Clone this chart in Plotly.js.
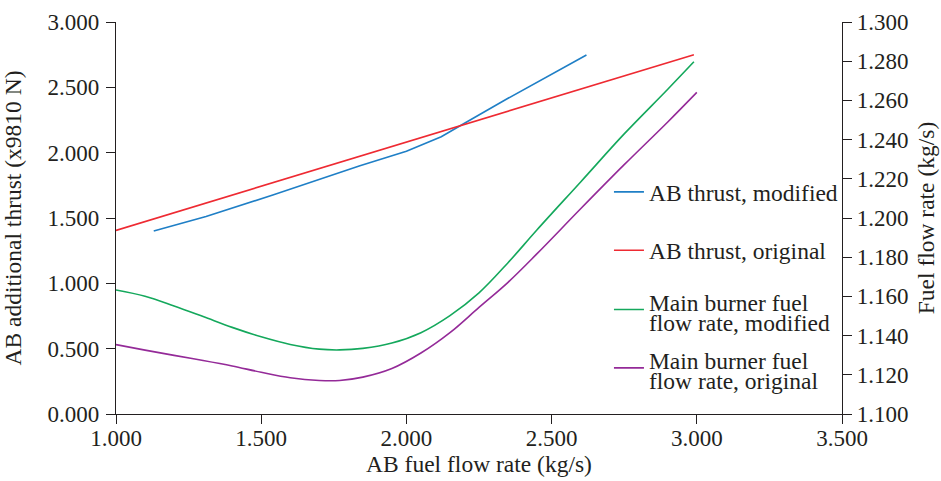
<!DOCTYPE html>
<html>
<head>
<meta charset="utf-8">
<script src="https://cdn.plot.ly/plotly-3.0.1.min.js"></script>
<style>
  html, body { margin: 0; padding: 0; background: #fff; }
  #chart { width: 941px; height: 481px; }
</style>
</head>
<body>
<div id="chart"></div>
<script>
// AB (afterburner) thrust, left axis, in units of 9810 N
const thrustModX = [1.13, 1.31, 1.54, 1.84, 2.00, 2.12, 2.20, 2.35, 2.62];
const thrustModY = [1.400, 1.512, 1.676, 1.900, 2.010, 2.122, 2.225, 2.416, 2.747];
const thrustOrigX = [1.00, 2.99];
const thrustOrigY = [1.405, 2.750];

// Main burner fuel flow rate, right axis, kg/s
const fuelModX = [1.00, 1.10, 1.20, 1.30, 1.40, 1.50, 1.60, 1.70, 1.77, 1.85, 1.95, 2.05, 2.15, 2.25, 2.35, 2.45, 2.60, 2.75, 2.90, 2.99];
const fuelModY = [1.1633, 1.1601, 1.1551, 1.1497, 1.1442, 1.1394, 1.1355, 1.1331, 1.1327, 1.1335, 1.1362, 1.1415, 1.1502, 1.1618, 1.1772, 1.1940, 1.2184, 1.2429, 1.2657, 1.2797];
const fuelOrigX = [1.00, 1.10, 1.20, 1.30, 1.40, 1.50, 1.60, 1.70, 1.77, 1.85, 1.95, 2.05, 2.15, 2.25, 2.35, 2.45, 2.60, 2.75, 2.90, 3.00];
const fuelOrigY = [1.1354, 1.1326, 1.1299, 1.1273, 1.1245, 1.1213, 1.1185, 1.1171, 1.1171, 1.1188, 1.1232, 1.1311, 1.1415, 1.1544, 1.1672, 1.1818, 1.2047, 1.2272, 1.2490, 1.2641];

// Axis ticks
const xTicks = [1.0, 1.5, 2.0, 2.5, 3.0, 3.5];
const yLeftTicks = [0, 0.5, 1.0, 1.5, 2.0, 2.5, 3.0];
const yRightTicks = [1.10, 1.12, 1.14, 1.16, 1.18, 1.20, 1.22, 1.24, 1.26, 1.28, 1.30];

const seriesNames = [
  'AB thrust, modified',
  'AB thrust, original',
  'Main burner fuel<br>flow rate, modified',
  'Main burner fuel<br>flow rate, original'
];
const seriesColors = ['#1f7fc6', '#ee2a32', '#14a85c', '#942a98'];

const ink = '#231f20';
const fontFamily = '"Liberation Serif", "DejaVu Serif", serif';
const tickSize = 23;
const textSize = 23.5;

const traces = [
  { x: thrustModX, y: thrustModY, yaxis: 'y', legend: 'legend' },
  { x: thrustOrigX, y: thrustOrigY, yaxis: 'y', legend: 'legend2' },
  { x: fuelModX, y: fuelModY, yaxis: 'y2', legend: 'legend3', spline: true },
  { x: fuelOrigX, y: fuelOrigY, yaxis: 'y2', legend: 'legend4', spline: true }
].map((t, i) => ({
  type: 'scatter',
  mode: 'lines',
  x: t.x,
  y: t.y,
  yaxis: t.yaxis,
  legend: t.legend,
  name: seriesNames[i],
  line: { color: seriesColors[i], width: 1.6, shape: t.spline ? 'spline' : 'linear', smoothing: 1 },
  hoverinfo: 'x+y+name'
}));

const axisCommon = {
  showline: true,
  linecolor: ink,
  linewidth: 1.2,
  ticks: 'outside',
  ticklen: 9,
  tickwidth: 1.2,
  tickcolor: ink,
  showgrid: false,
  zeroline: false,
  tickformat: '.3f',
  tickfont: { family: fontFamily, size: tickSize, color: ink }
};

// One small legend per series so each entry can sit at its own height
function legendAt(yFrac) {
  return {
    x: 0.679, y: yFrac, xref: 'paper', yref: 'paper',
    xanchor: 'left', yanchor: 'middle',
    bgcolor: 'rgba(0,0,0,0)', borderwidth: 0,
    font: { family: fontFamily, size: textSize, color: ink },
    valign: 'middle'
  };
}

const titleFont = { family: fontFamily, size: textSize, color: ink };

const layout = {
  width: 941,
  height: 481,
  margin: { l: 116, r: 99, t: 22, b: 67 },
  paper_bgcolor: '#ffffff',
  plot_bgcolor: '#ffffff',
  font: { family: fontFamily, size: textSize, color: ink },
  showlegend: true,
  legend: legendAt(0.566),
  legend2: legendAt(0.417),
  legend3: legendAt(0.2653),
  legend4: legendAt(0.1166),
  xaxis: Object.assign({}, axisCommon, {
    range: [1.0, 3.5],
    tickvals: xTicks,
    ticklabelstandoff: -6,
    title: { text: 'AB fuel flow rate (kg/s)', font: titleFont, standoff: 4 }
  }),
  yaxis: Object.assign({}, axisCommon, {
    range: [0, 3.0],
    tickvals: yLeftTicks,
    ticklabelstandoff: 2,
    title: { text: 'AB additional thrust (x9810 N)', font: titleFont, standoff: 24 }
  }),
  yaxis2: Object.assign({}, axisCommon, {
    range: [1.10, 1.30],
    tickvals: yRightTicks,
    overlaying: 'y',
    side: 'right',
    anchor: 'x',
    title: { text: 'Fuel flow rate (kg/s)', font: titleFont, standoff: 10 }
  })
};

const gd = document.getElementById('chart');

// Two-line legend labels: first line level with the swatch, tight leading below it.
// Legend text nodes are classed legendtext, legend2text, legend3text, ...
const firstBaseline = 1;
const lineStep = 20;
function tightenLegendLines() {
  gd.querySelectorAll('.infolayer text').forEach(text => {
    const cls = text.getAttribute('class') || '';
    if (!/^legend\d*text$/.test(cls)) return;
    const lines = text.querySelectorAll('tspan.line');
    if (lines.length < 2) return;
    if (text.getAttribute('y') !== String(firstBaseline)) text.setAttribute('y', firstBaseline);
    lines.forEach((tspan, k) => {
      if (tspan.getAttribute('y') !== String(firstBaseline)) tspan.setAttribute('y', firstBaseline);
      if (tspan.getAttribute('dy') !== String(k * lineStep)) tspan.setAttribute('dy', String(k * lineStep));
    });
  });
}

const observer = new MutationObserver(tightenLegendLines);
observer.observe(gd, { childList: true, subtree: true, attributes: true, attributeFilter: ['y', 'dy'] });

Plotly.newPlot(gd, traces, layout, { displayModeBar: false, responsive: false }).then(() => {
  tightenLegendLines();
  gd.on('plotly_afterplot', tightenLegendLines);
});
</script>
</body>
</html>
